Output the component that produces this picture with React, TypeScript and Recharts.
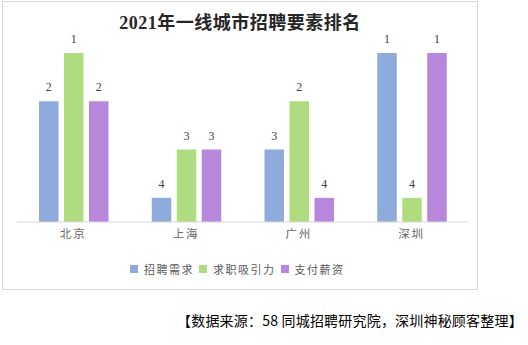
import React from "react";
import { BarChart, Bar, XAxis, YAxis, LabelList } from "recharts";

const cities = ["北京", "上海", "广州", "深圳"];
const demandRank = [2, 4, 3, 1];
const attractRank = [1, 3, 2, 4];
const salaryRank = [2, 3, 4, 1];

const seriesNames = ["招聘需求", "求职吸引力", "支付薪资"];
const seriesColors = ["#8FAADC", "#B0DC80", "#B687DA"];

// rank 1 draws the tallest bar
const maxRank = 4;
const chartData = cities.map((city, i) => ({
  city,
  demand: maxRank + 1 - demandRank[i],
  attract: maxRank + 1 - attractRank[i],
  salary: maxRank + 1 - salaryRank[i],
  demandRank: demandRank[i],
  attractRank: attractRank[i],
  salaryRank: salaryRank[i],
}));

const keys = ["demand", "attract", "salary"];

const labelStyle = {
  fill: "#404040",
  fontSize: 12,
  fontFamily: "'Liberation Serif', serif",
};

const App: React.FC = () => {
  return (
    <div
      style={{
        position: "absolute",
        left: 0,
        top: 0,
        width: 528,
        height: 345,
        background: "#fff",
      }}
    >
      <div
        style={{
          position: "absolute",
          left: 2,
          top: 1,
          width: 476,
          height: 289,
          boxSizing: "border-box",
          border: "1px solid #D9D9D9",
        }}
      />
      <div
        style={{
          position: "absolute",
          left: 2,
          top: 11,
          width: 476,
          textAlign: "center",
          fontFamily: "'Liberation Serif', 'Noto Sans CJK SC', serif",
          fontWeight: "bold",
          fontSize: 18,
          letterSpacing: 0.5,
          color: "#262626",
          lineHeight: "24px",
        }}
      >
        2021年一线城市招聘要素排名
      </div>
      <div style={{ position: "absolute", left: 0, top: 0 }}>
        <BarChart
          width={528}
          height={345}
          data={chartData}
          margin={{ top: 53, right: 60, bottom: 93, left: 17 }}
          barSize={19.5}
          barGap={5.5}
        >
          <XAxis
            dataKey="city"
            axisLine={{ stroke: "#D9D9D9" }}
            tickLine={false}
            height={30}
            tick={{
              fill: "#666666",
              fontSize: 11.5,
              fontFamily: "'Noto Sans CJK SC', sans-serif",
              letterSpacing: 2,
            }}
          />
          <YAxis hide domain={[0.5, 4]} />
          {keys.map((k, i) => (
            <Bar
              key={k}
              dataKey={k}
              fill={seriesColors[i]}
              isAnimationActive={false}
            >
              <LabelList
                dataKey={k + "Rank"}
                position="top"
                offset={10}
                style={labelStyle}
              />
            </Bar>
          ))}
        </BarChart>
      </div>
      <div
        style={{
          position: "absolute",
          left: 130,
          top: 261,
          display: "flex",
          alignItems: "center",
          fontFamily: "'Noto Sans CJK SC', sans-serif",
          fontSize: 11,
          letterSpacing: 1.5,
          color: "#595959",
          lineHeight: "16px",
          whiteSpace: "nowrap",
        }}
      >
        {seriesNames.map((name, i) => (
          <span
            key={name}
            style={{ display: "flex", alignItems: "center", marginRight: 5 }}
          >
            <span
              style={{
                display: "inline-block",
                width: 8,
                height: 8,
                background: seriesColors[i],
                marginRight: 6,
              }}
            />
            {name}
          </span>
        ))}
      </div>
      <div
        style={{
          position: "absolute",
          left: 177,
          top: 311,
          fontFamily: "'Noto Sans CJK SC', sans-serif",
          fontSize: 14,
          letterSpacing: 0.2,
          color: "#000",
          lineHeight: "18px",
          whiteSpace: "nowrap",
        }}
      >
        【数据来源：58 同城招聘研究院，深圳神秘顾客整理】
      </div>
    </div>
  );
};

export default App;
